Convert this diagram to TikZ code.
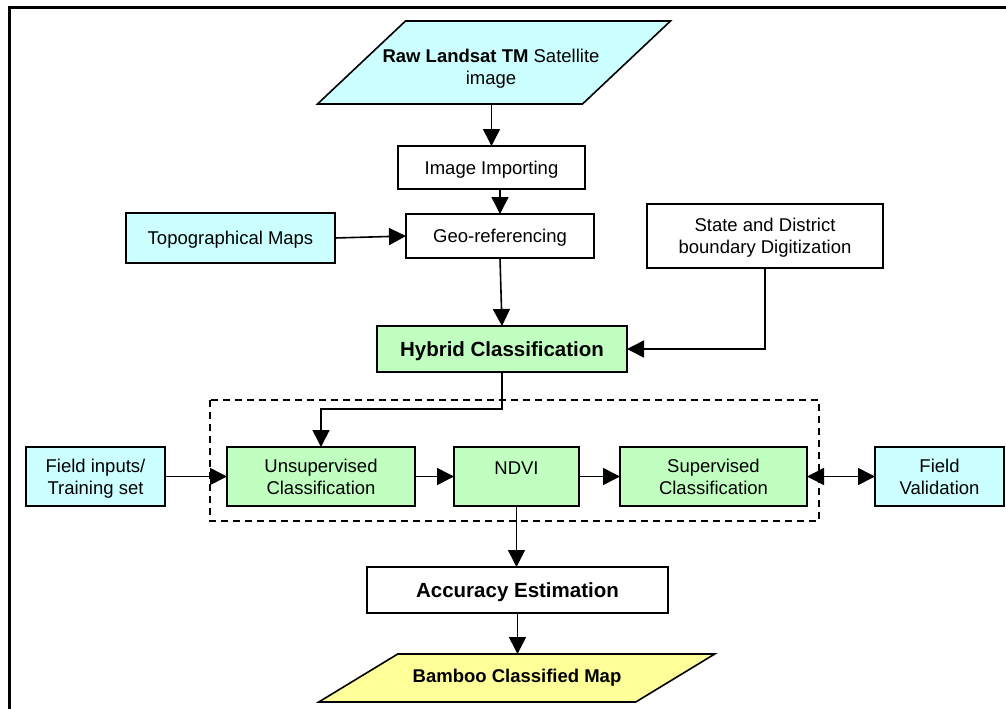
\documentclass[tikz,border=0pt]{standalone}
\usepackage{fontspec}
\setmainfont{Liberation Sans}
\usetikzlibrary{arrows.meta}
\definecolor{inputcyan}{HTML}{CCFFFF}
\definecolor{procgreen}{HTML}{C0FFC0}
\definecolor{outyellow}{HTML}{FFFF99}
\begin{document}
\begin{tikzpicture}[x=1pt,y=-1pt,
  every node/.style={inner sep=0pt, outer sep=0pt, align=center, text depth=0pt,
    font=\fontsize{18.5}{22}\selectfont},
  box/.style={draw, line width=1.6pt},
  inbox/.style={box, fill=inputcyan},
  procbox/.style={box, fill=procgreen},
  bigbold/.style={font=\bfseries\fontsize{20.5}{24}\selectfont},
  sz/.style 2 args={minimum width=#1pt, minimum height=#2pt},
  link/.style={line width=1.6pt, -{Triangle[length=17pt,width=17pt]}},
  twoway/.style={line width=1.6pt, {Triangle[length=17pt,width=17pt]}-{Triangle[length=17pt,width=17pt]}},
]
\useasboundingbox (0,0) rectangle (1006,709);
\fill[white] (0,0) rectangle (1006,709);
% outer frame (top and left edges)
\draw[line width=3pt] (9.5,709) -- (9.5,8) -- (1006,8);

% input image (parallelogram)
\node[sz={265}{83}] (raw) at (494,62.5) {};
\draw[box, fill=inputcyan]
  ([xshift=44pt]raw.north west) -- ([xshift=44pt]raw.north east) --
  ([xshift=-44pt]raw.south east) -- ([xshift=-44pt]raw.south west) -- cycle;
\node (rawlabel) at (491,66.5) {\textbf{Raw Landsat TM} Satellite\\image};

% preprocessing
\node[box, sz={187}{43}] (imp) at (491.5,167.5) {Image Importing};
\node[box, sz={188}{44}] (geo) at (500,236) {Geo-referencing};
\node[inbox, sz={209}{50}] (topo) at (230.5,238) {Topographical Maps};
\node[box, sz={236}{64}] (state) at (765,236) {State and District\\boundary Digitization};
\node[procbox, bigbold, sz={250}{46}] (hyb) at (502,349) {Hybrid Classification};

% classification group
\draw[line width=1.6pt, dash pattern=on 7pt off 5pt] (210,400) rectangle (819,521);
\node[inbox, sz={139}{59}] (fin) at (95.5,476.5) {Field inputs/\\Training set};
\node[procbox, sz={188}{59}] (uns) at (321,476.5) {Unsupervised\\Classification};
\node[procbox, sz={125}{59}, text depth=16pt] (ndvi) at (516.5,476.5) {NDVI};
\node[procbox, sz={187}{59}] (sup) at (713.5,476.5) {Supervised\\Classification};
\node[inbox, sz={129}{59}] (fval) at (939.5,476.5) {Field\\Validation};

% output
\node[box, bigbold, sz={301}{46}] (acc) at (517.5,590) {Accuracy Estimation};
\node[sz={317}{48}] (bam) at (516.75,678) {};
\draw[box, fill=outyellow]
  ([xshift=39.5pt]bam.north west) -- ([xshift=39.5pt]bam.north east) --
  ([xshift=-39.5pt]bam.south east) -- ([xshift=-39.5pt]bam.south west) -- cycle;
\node[font=\bfseries\fontsize{18.5}{22}\selectfont] (bamlabel) at (517,675.5) {Bamboo Classified Map};

% connectors
\draw[link] (raw.south -| imp.north) -- (imp.north);
\draw[link] (imp.south -| geo.north) -- (geo.north);
\draw[link] (topo.east) -- (geo.west);
\draw[link] (geo.south) -- (hyb.north);
\draw[link] (state.south) |- (hyb.east);
\coordinate (split) at (502,409);
\draw[link] (hyb.south) -- (split) -| (uns.north);
\draw[link] (fin.east) -- (uns.west);
\draw[link] (uns.east) -- (ndvi.west);
\draw[link] (ndvi.east) -- (sup.west);
\draw[twoway] (sup.east) -- (fval.west);
\draw[link] (ndvi.south) -- (ndvi.south |- acc.north);
\draw[link] (acc.south) -- (acc.south |- bam.north);
\end{tikzpicture}
\end{document}
